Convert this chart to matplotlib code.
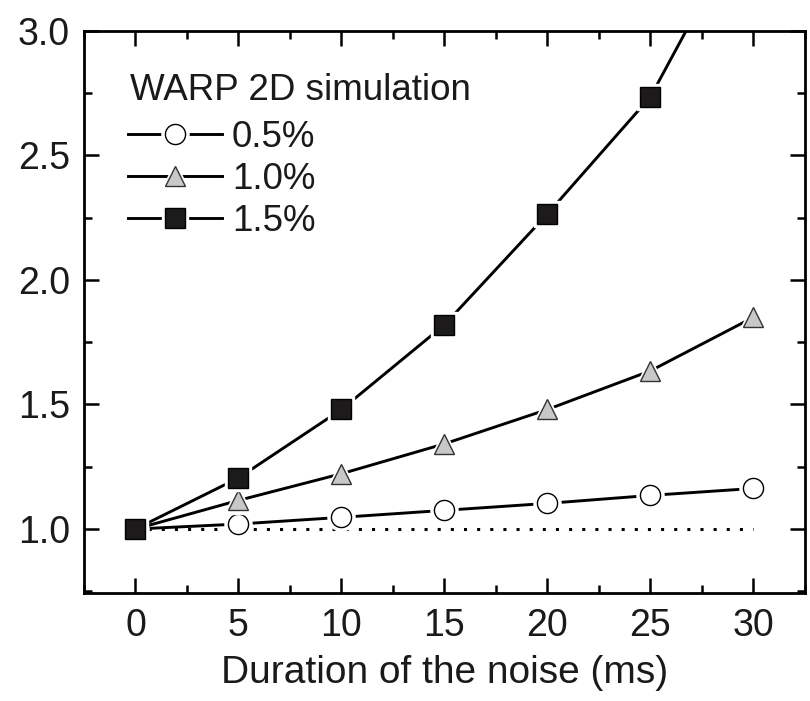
import numpy as np
import matplotlib
matplotlib.use("Agg")
import matplotlib.pyplot as plt
from matplotlib.ticker import MultipleLocator
from matplotlib.lines import Line2D
from matplotlib.legend_handler import HandlerTuple

plt.rcParams['font.family'] = ['Liberation Sans', 'DejaVu Sans']

# data
duration = [0, 5, 10, 15, 20, 25, 30]
noise_05 = [1.0, 1.02, 1.047, 1.075, 1.103, 1.135, 1.163]
noise_10 = [1.0, 1.115, 1.222, 1.342, 1.48, 1.635, 1.85]
noise_15 = [1.0, 1.205, 1.48, 1.82, 2.265, 2.735, 3.5]
labels = ['0.5%', '1.0%', '1.5%']

styles = [
    dict(marker='o', ms=14.5, mfc='white', mec='black'),
    dict(marker='^', ms=15, mfc='#c8c8c8', mec='#333333'),
    dict(marker='s', ms=14, mfc='#1c1a1a', mec='black'),
]
series = [noise_05, noise_10, noise_15]

fig = plt.figure(figsize=(8.1, 7.01), dpi=100)
ax = fig.add_axes([0.1037, 0.154, 0.890, 0.802])

ax.plot([0, 30], [1.0, 1.0], color='black', lw=2.2, ls=(0, (1, 3.3)))

handles = []
for i, (y, st) in enumerate(zip(series, styles)):
    z = 3 + i
    ax.plot(duration, y, '-', color='black', lw=2.1, zorder=z)
    # white halo gives the gap between line and marker
    ax.plot(duration, y, ls='none', marker=st['marker'], ms=st['ms'] + 5,
            mfc='white', mec='white', zorder=z + 0.1)
    ax.plot(duration, y, ls='none', mew=1.0, zorder=z + 0.2, **st)
    h_line = Line2D([], [], color='black', lw=2.1)
    h_halo = Line2D([], [], ls='none', marker=st['marker'], ms=st['ms'] + 5,
                    mfc='white', mec='white')
    h_mark = Line2D([], [], ls='none', mew=1.0, **st)
    handles.append((h_line, h_halo, h_mark))

ax.set_xlim(-2.5, 32.5)
ax.set_ylim(0.743, 3.0)
ax.xaxis.set_major_locator(MultipleLocator(5))
ax.xaxis.set_minor_locator(MultipleLocator(2.5))
ax.yaxis.set_major_locator(MultipleLocator(0.5))
ax.yaxis.set_minor_locator(MultipleLocator(0.25))
ax.yaxis.set_major_formatter(plt.FormatStrFormatter('%.1f'))

ax.tick_params(which='both', direction='in', top=True, right=True,
               width=1.8, labelsize=27, colors='black', labelcolor='#1a1a1a')
ax.tick_params(axis='x', which='major', length=11, pad=11)
ax.tick_params(axis='y', which='major', length=11, pad=10)
ax.tick_params(which='minor', length=6)
for s in ax.spines.values():
    s.set_linewidth(2.0)

ax.set_xlabel('Duration of the noise (ms)', fontsize=28, labelpad=8,
              color='#1a1a1a')

ax.text(0.0638, 0.877, 'WARP 2D simulation', transform=ax.transAxes,
        fontsize=26.5, color='#1a1a1a', ha='left', va='baseline')

leg = ax.legend(handles, labels, loc='upper left',
                bbox_to_anchor=(0.061, 0.841), frameon=False, fontsize=26.5,
                handlelength=2.55, handletextpad=0.27, borderpad=0,
                labelspacing=0.19, borderaxespad=0,
                handler_map={tuple: HandlerTuple(ndivide=1)})
for t in leg.get_texts():
    t.set_color('#1a1a1a')

fig.savefig('out.png', dpi=100)
